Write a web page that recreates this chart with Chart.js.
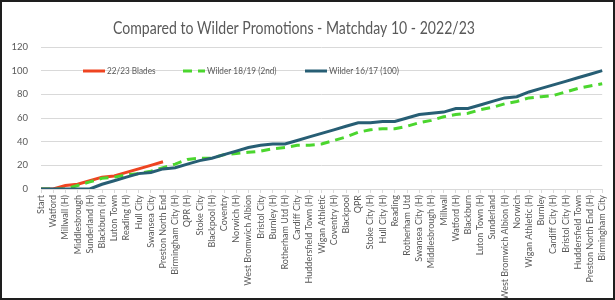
<!DOCTYPE html>
<html>
<head>
<meta charset="utf-8">
<script src="https://cdn.jsdelivr.net/npm/chart.js@4.4.1/dist/chart.umd.min.js"></script>
<style>
    html, body { margin: 0; padding: 0; background: #fff; }
    #wrap { position: relative; width: 615px; height: 300px; }
</style>
</head>
<body>
<div id="wrap"><canvas id="chart" width="615" height="300"></canvas></div>
<script>
const matches = [
    "Start", "Watford", "Millwall (H)", "Middlesbrough", "Sunderland (H)", "Blackburn (H)",
    "Luton Town", "Reading (H)", "Hull City", "Swansea City", "Preston North End",
    "Birmingham City (H)", "QPR (H)", "Stoke City", "Blackpool (H)", "Coventry", "Norwich (H)",
    "West Bromwich Albion", "Bristol City", "Burnley (H)", "Rotherham Utd (H)", "Cardiff City",
    "Huddersfield Town (H)", "Wigan Athletic", "Coventry (H)", "Blackpool", "QPR", "Stoke City (H)",
    "Hull City (H)", "Reading", "Rotherham Utd", "Swansea City (H)", "Middlesbrough (H)", "Millwall",
    "Watford (H)", "Blackburn", "Luton Town (H)", "Sunderland", "West Bromwich Albion (H)", "Norwich",
    "Wigan Athletic (H)", "Burnley", "Cardiff City (H)", "Bristol City (H)", "Huddersfield Town",
    "Preston North End (H)", "Birmingham City"
];

const blades2223 = [0, 0, 3, 4, 7, 10, 11, 14, 17, 20, 23];

const wilder1819 = [0, 0, 0, 3, 6, 9, 10, 12, 13, 15, 18, 21, 25, 26, 26, 29, 30, 31, 32, 34,
    35, 37, 37, 38, 41, 44, 48, 50, 51, 51, 53, 56, 58, 61, 63, 64, 67, 69, 72, 74, 77, 78, 79,
    82, 85, 87, 89];

const wilder1617 = [0, 0, 0, 0, 0, 4, 7, 10, 13, 14, 17, 18, 21, 24, 26, 29, 32, 35, 37, 38,
    38, 41, 44, 47, 50, 53, 56, 56, 57, 57, 60, 63, 64, 65, 68, 68, 71, 74, 77, 78, 82, 85, 88,
    91, 94, 97, 100];

const yMin = 0;
const yMax = 120;
const yStep = 20;

const TITLE = "Compared to Wilder Promotions - Matchday 10 - 2022/23";
const FONT = "Lato, 'Liberation Sans', sans-serif";
const TEXT = "#595959";
const GRID = "#d9d9d9";

// legend sits inside the plot, like the original
const legendX = [83, 183, 305];
const legendY = 71;

// the original uses a narrow face, so squeeze text sideways a little
function narrowText(ctx, text, x, y, squeeze) {
    ctx.save();
    ctx.translate(x, y);
    ctx.scale(squeeze, 1);
    ctx.fillText(text, 0, 0);
    ctx.restore();
}

const decorations = {
    id: "decorations",
    afterDraw(chart) {
        const ctx = chart.ctx;
        ctx.save();
        ctx.fillStyle = TEXT;
        ctx.font = "17px " + FONT;
        ctx.textAlign = "center";
        ctx.textBaseline = "middle";
        const w = ctx.measureText(TITLE).width;
        narrowText(ctx, TITLE, 294, 29, Math.min(1, 362 / w));

        ctx.font = "10px " + FONT;
        ctx.textAlign = "left";
        chart.data.datasets.forEach((ds, i) => {
            const x = legendX[i];
            ctx.strokeStyle = ds.borderColor;
            ctx.lineWidth = ds.borderWidth;
            ctx.setLineDash(ds.borderDash || []);
            ctx.beginPath();
            ctx.moveTo(x, legendY);
            ctx.lineTo(x + 22, legendY);
            ctx.stroke();
            ctx.setLineDash([]);
            narrowText(ctx, ds.label, x + 24, legendY, 0.82);
        });

        ctx.strokeStyle = "#1e1e1e";
        ctx.lineWidth = 2;
        ctx.strokeRect(1, 1, 613, 298);
        ctx.restore();
    }
};

new Chart(document.getElementById("chart"), {
    type: "line",
    data: {
        labels: matches,
        datasets: [
            {
                label: "22/23 Blades",
                data: blades2223,
                borderColor: "#ee4421",
                borderWidth: 3,
                order: 2
            },
            {
                label: "Wilder 18/19 (2nd)",
                data: wilder1819,
                borderColor: "#4bd62e",
                borderWidth: 3,
                borderDash: [9, 6],
                order: 1
            },
            {
                label: "Wilder 16/17 (100)",
                data: wilder1617,
                borderColor: "#275e74",
                borderWidth: 3,
                order: 0
            }
        ]
    },
    options: {
        responsive: false,
        animation: false,
        devicePixelRatio: 1,
        layout: { padding: { left: 0, right: 8, top: 47, bottom: 0 } },
        elements: {
            point: { radius: 0 },
            line: { tension: 0, borderCapStyle: "butt" }
        },
        plugins: {
            legend: { display: false },
            title: { display: false },
            tooltip: { enabled: false }
        },
        scales: {
            x: {
                offset: false,
                grid: { display: true, drawOnChartArea: false, drawTicks: true, tickLength: 4, color: GRID },
                border: { color: GRID },
                ticks: {
                    autoSkip: false,
                    minRotation: 90,
                    maxRotation: 90,
                    padding: 2,
                    color: TEXT,
                    font: { family: FONT, size: 9 }
                },
                afterFit(scale) { scale.height = 111; }
            },
            y: {
                min: yMin,
                max: yMax,
                grid: { color: GRID, drawTicks: false },
                border: { display: false },
                ticks: {
                    stepSize: yStep,
                    padding: 13,
                    color: TEXT,
                    font: { family: FONT, size: 9.5 }
                },
                afterFit(scale) { scale.width = 41; }
            }
        }
    },
    plugins: [decorations]
});
</script>
</body>
</html>
